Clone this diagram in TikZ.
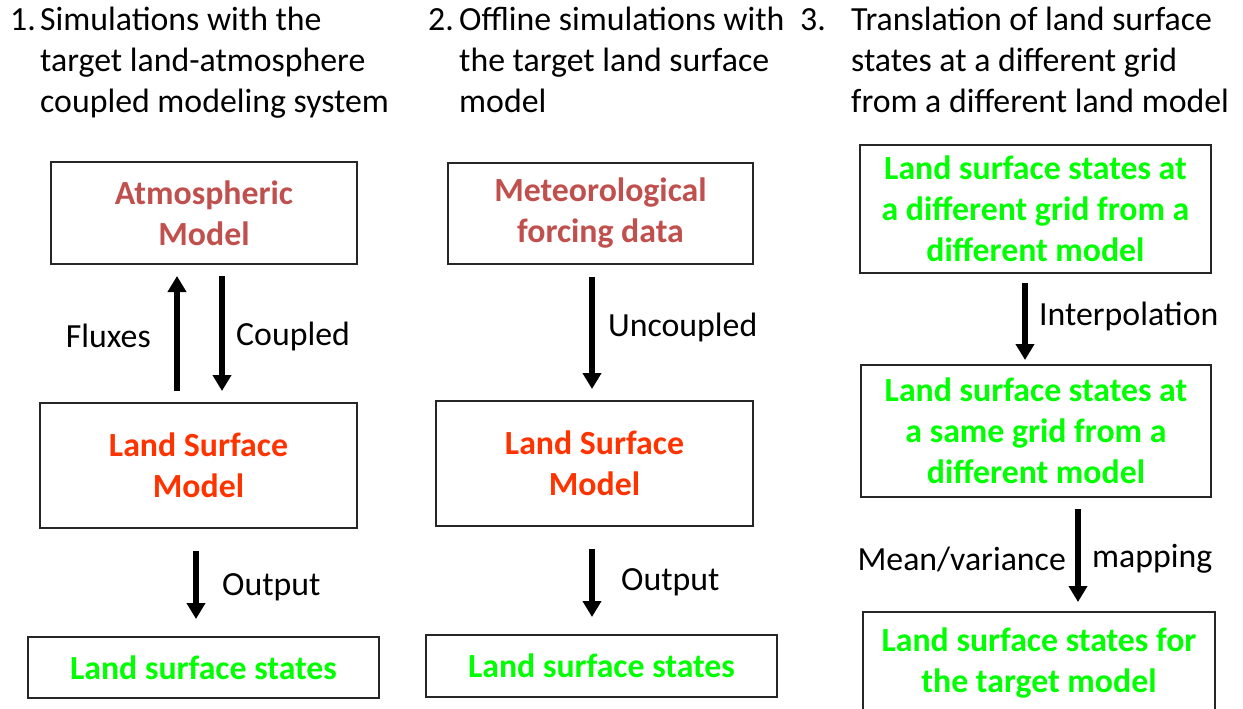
\documentclass[tikz,border=0pt]{standalone}
\usepackage{fontspec}
\setmainfont{Carlito}
\usetikzlibrary{arrows.meta}
\definecolor{atmred}{HTML}{C0504D}
\definecolor{lsmred}{HTML}{FF3300}
\definecolor{lgreen}{HTML}{00FF00}
\tikzset{
  box/.style={draw=black!85, line width=1.3pt, inner sep=0pt, outer sep=0pt, align=center, font=\fontsize{33.8}{41}\selectfont\bfseries},
  arr/.style={line width=6pt, -{Triangle[width=18pt,length=16pt]}},
  lbl/.style={inner sep=0pt, font=\fontsize{33.8}{41}\selectfont},
  ttl/.style={inner sep=0pt, anchor=base west, align=left, font=\fontsize{33.8}{41}\selectfont},
}
\begin{document}
\begin{tikzpicture}[x=1pt,y=-1pt]
\useasboundingbox (0,0) rectangle (1243,709);
% titles (base anchor = baseline of the last line)
\node[ttl] (n1) at (10,31) {1.};
\node[ttl] (t1) at (40,113) {Simulations with the\\target land-atmosphere\\coupled modeling system};
\node[ttl] (n2) at (428,31) {2.};
\node[ttl] (t2) at (459,113) {Offline simulations with\\the target land surface\\model};
\node[ttl] (n3) at (800,31) {3.};
\node[ttl] (t3) at (851,113) {Translation of land surface\\states at a different grid\\from a different land model};
% column 1
\node[box, minimum width=306pt, minimum height=102pt, text=atmred] (atm1) at (204,213) {Atmospheric\\Model};
\node[box, minimum width=317pt, minimum height=125pt, text=lsmred] (lsm1) at (198.5,465.5) {Land Surface\\Model};
\node[box, minimum width=351pt, minimum height=61pt, text=lgreen] (lss1) at (203.5,667.5) {Land surface states};
\draw[arr, shorten <=12pt, shorten >=12pt] (177,0 |- lsm1.north) -- (177,0 |- atm1.south);
\draw[arr, shorten <=12pt, shorten >=12pt] (222,0 |- atm1.south) -- (222,0 |- lsm1.north);
\draw[arr, shorten <=23pt, shorten >=18pt] (196,0 |- lsm1.south) -- (196,0 |- lss1.north);
\node[lbl, anchor=east] (fl) at (151,336) {Fluxes};
\node[lbl, anchor=west] (cp) at (236,336) {Coupled};
\node[lbl, anchor=west] (o1) at (222,587) {Output};
% column 2
\node[box, minimum width=305pt, minimum height=101pt, text=atmred] (met2) at (600.5,213.5) {Meteorological\\forcing data};
\node[box, minimum width=317pt, minimum height=125pt, text=lsmred] (lsm2) at (594.5,463.5) {Land Surface\\Model};
\node[box, minimum width=351pt, minimum height=62pt, text=lgreen] (lss2) at (601.5,666) {Land surface states};
\draw[arr, shorten <=13pt, shorten >=12pt] (592,0 |- met2.south) -- (592,0 |- lsm2.north);
\draw[arr, shorten <=23pt, shorten >=18pt] (592,0 |- lsm2.south) -- (592,0 |- lss2.north);
\node[lbl, anchor=west] (uc) at (608,327) {Uncoupled};
\node[lbl, anchor=west] (o2) at (621,582) {Output};
% column 3
\node[box, minimum width=351pt, minimum height=128pt, text=lgreen] (b31) at (1035.5,209) {Land surface states at\\a different grid from a\\different model};
\node[box, minimum width=350pt, minimum height=132pt, text=lgreen] (b32) at (1036,431) {Land surface states at\\a same grid from a\\different model};
\node[box, minimum width=352pt, minimum height=102pt, text=lgreen] (b33) at (1039,663) {Land surface states for\\the target model};
\draw[arr, shorten <=10pt, shorten >=5pt] (1025,0 |- b31.south) -- (1025,0 |- b32.north);
\draw[arr, shorten <=12pt, shorten >=10pt] (1078,0 |- b32.south) -- (1078,0 |- b33.north);
\node[lbl, anchor=west] (ip) at (1039,316) {Interpolation};
\node[lbl, anchor=east] (mv) at (1066,559) {Mean/variance};
\node[lbl, anchor=west] (mp) at (1092,559) {mapping};
\end{tikzpicture}
\end{document}
